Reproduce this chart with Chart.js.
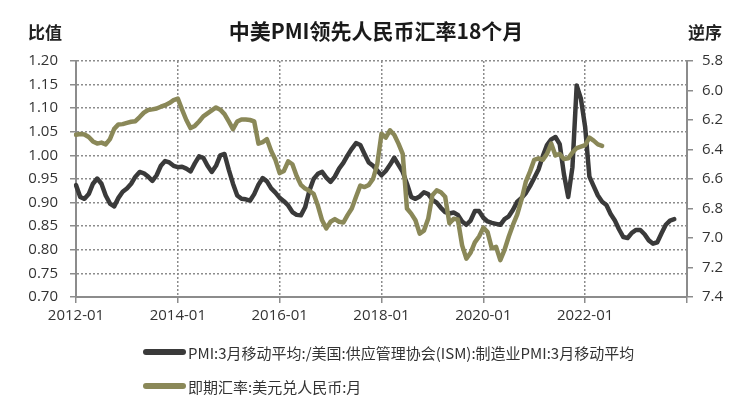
<!DOCTYPE html>
<html lang="zh">
<head>
<meta charset="UTF-8">
<title>中美PMI领先人民币汇率18个月</title>
<script src="https://cdn.jsdelivr.net/npm/chart.js"></script>
<style>
  body { margin: 0; background: #fff; }
  #wrap { position: relative; width: 752px; height: 398px; }
  .legend { position: absolute; left: 143px; height: 20px; line-height: 20px; font: 15px "Noto Sans CJK SC", sans-serif; color: #333; display: flex; align-items: center; white-space: nowrap; }
  .legend i { display: inline-block; width: 43px; height: 6px; border-radius: 3px; margin-right: 2px; }
</style>
</head>
<body>
<div id="wrap">
  <canvas id="myChart" width="752" height="398"></canvas>
  <div id="legend"></div>
</div>
<script>
// x axis: monthly, 2012-01 .. 2024-01
const startYear = 2012, endYear = 2024;
const tickLabels = ['2012-01', '2014-01', '2016-01', '2018-01', '2020-01', '2022-01'];

// PMI ratio (China / US ISM, 3m avg), from 2012-01
const pmiRatio = [
  0.937, 0.912, 0.908, 0.918, 0.940, 0.951, 0.940, 0.915, 0.898, 0.892, 0.910, 0.923,
  0.930, 0.940, 0.955, 0.965, 0.962, 0.955, 0.946, 0.958, 0.978, 0.988, 0.985, 0.978,
  0.975, 0.976, 0.972, 0.966, 0.983, 0.998, 0.995, 0.978, 0.965, 0.978, 1.000, 1.003,
  0.970, 0.940, 0.915, 0.908, 0.907, 0.904, 0.918, 0.938, 0.952, 0.945, 0.930, 0.921,
  0.910, 0.903, 0.894, 0.880, 0.874, 0.873, 0.890, 0.925, 0.950, 0.961, 0.965, 0.953,
  0.944, 0.955, 0.972, 0.984, 1.000, 1.014, 1.026, 1.022, 1.003, 0.985, 0.978, 0.968,
  0.958, 0.967, 0.980, 0.995, 0.980, 0.965, 0.940, 0.912, 0.908, 0.913, 0.922, 0.918,
  0.906, 0.900, 0.889, 0.880, 0.877, 0.879, 0.874, 0.860, 0.853, 0.862, 0.882, 0.882,
  0.868, 0.860, 0.857, 0.855, 0.853, 0.865, 0.871, 0.885, 0.902, 0.910, 0.920, 0.935,
  0.952, 0.970, 0.998, 1.022, 1.034, 1.039, 1.024, 0.960, 0.912, 0.975, 1.148, 1.120,
  1.060, 0.955, 0.935, 0.915, 0.902, 0.895, 0.876, 0.862, 0.843, 0.827, 0.825, 0.836,
  0.842, 0.842, 0.833, 0.820, 0.813, 0.816, 0.835, 0.853, 0.862, 0.865
];

// USD/CNY spot (right axis, reversed), shifted 18 months, from 2012-01
const usdCny = [
  6.300, 6.295, 6.298, 6.315, 6.345, 6.360, 6.353, 6.365, 6.330, 6.260, 6.230, 6.228,
  6.220, 6.212, 6.208, 6.180, 6.150, 6.132, 6.128, 6.122, 6.110, 6.100, 6.085, 6.065,
  6.055, 6.130, 6.200, 6.255, 6.240, 6.210, 6.175, 6.155, 6.135, 6.115, 6.130, 6.160,
  6.210, 6.262, 6.210, 6.196, 6.196, 6.200, 6.210, 6.360, 6.350, 6.330, 6.410, 6.470,
  6.560, 6.545, 6.480, 6.500, 6.580, 6.640, 6.665, 6.680, 6.700, 6.780, 6.880, 6.935,
  6.890, 6.872, 6.890, 6.895, 6.845, 6.800, 6.720, 6.645, 6.655, 6.640, 6.600, 6.500,
  6.293, 6.320, 6.270, 6.300, 6.360, 6.430, 6.800, 6.835, 6.880, 6.970, 6.950, 6.870,
  6.710, 6.677, 6.690, 6.720, 6.900, 6.870, 6.875, 7.050, 7.140, 7.100, 7.030, 6.990,
  6.930, 6.960, 7.070, 7.060, 7.150, 7.080, 6.990, 6.910, 6.840, 6.740, 6.620, 6.550,
  6.470, 6.460, 6.470, 6.430, 6.360, 6.440, 6.430, 6.465, 6.460, 6.420, 6.390, 6.380,
  6.370, 6.320, 6.340, 6.365, 6.375
];

const months = [];
for (let y = startYear; y <= endYear; y++) {
  for (let m = 1; m <= 12; m++) {
    if (y === endYear && m > 1) break;
    months.push(y + '-' + String(m).padStart(2, '0'));
  }
}

const axisColor = '#8c8c8c';
const tickFont = { family: '"Open Sans", sans-serif', size: 15 };
const tickColor = '#333';

// axis unit captions above the two y axes
const unitLabels = {
  id: 'unitLabels',
  afterDraw(chart) {
    const { ctx, chartArea } = chart;
    ctx.save();
    ctx.font = 'bold 17px "Noto Sans CJK SC"';
    ctx.fillStyle = '#222';
    ctx.textAlign = 'center';
    ctx.textBaseline = 'middle';
    ctx.fillText('比值', chartArea.left - 31, 33);
    ctx.fillText('逆序', chartArea.right + 18, 33);
    ctx.restore();
  }
};

const ctx = document.getElementById('myChart').getContext('2d');
const chart = new Chart(ctx, {
  type: 'line',
  data: {
    labels: months,
    datasets: [{
      label: 'PMI:3月移动平均:/美国:供应管理协会(ISM):制造业PMI:3月移动平均',
      data: pmiRatio,
      yAxisID: 'y',
      borderColor: '#3a3a3a',
      borderWidth: 4.5,
      pointRadius: 0,
      borderJoinStyle: 'round',
      borderCapStyle: 'round',
      order: 2
    },
    {
      label: '即期汇率:美元兑人民币:月',
      data: usdCny,
      yAxisID: 'y1',
      borderColor: '#8a8858',
      borderWidth: 4.5,
      pointRadius: 0,
      borderJoinStyle: 'round',
      borderCapStyle: 'round',
      order: 1
    }]
  },
  options: {
    responsive: false,
    animation: false,
    layout: { padding: { top: 0, left: 0, right: 0, bottom: 61 } },
    plugins: {
      legend: { display: false },
      tooltip: { enabled: false },
      title: {
        display: true,
        text: '中美PMI领先人民币汇率18个月',
        color: '#1a1a1a',
        font: { family: '"Noto Sans CJK SC"', size: 21, weight: 'bold' },
        padding: { top: 18.4, bottom: 17.4 }
      }
    },
    scales: {
      x: {
        type: 'category',
        offset: false,
        grid: {
          color: c => c.index % 24 === 0 ? axisColor : 'transparent',
          tickColor: c => c.index % 24 === 0 ? axisColor : 'transparent',
          lineWidth: 1.5,
          tickLength: 6
        },
        border: { color: axisColor, width: 2, dash: [2, 2] },
        ticks: {
          autoSkip: false,
          maxRotation: 0,
          minRotation: 0,
          padding: 4,
          font: tickFont,
          color: tickColor,
          callback: (v, i) => tickLabels.includes(months[i]) ? months[i] : ''
        },
        afterFit: s => { s.height = 40; }
      },
      y: {
        position: 'left',
        min: 0.7,
        max: 1.2,
        grid: { color: axisColor, tickColor: axisColor, lineWidth: 1.5, tickLength: 6 },
        border: { color: axisColor, width: 2, dash: [2, 2] },
        ticks: {
          stepSize: 0.05,
          padding: 12,
          font: tickFont,
          color: tickColor,
          callback: v => v.toFixed(2)
        },
        afterFit: s => { s.width = 76; }
      },
      y1: {
        position: 'right',
        reverse: true,
        min: 5.8,
        max: 7.4,
        grid: { drawOnChartArea: false, color: axisColor, tickColor: axisColor, lineWidth: 1.5, tickLength: 6 },
        border: { color: axisColor, width: 2 },
        ticks: {
          stepSize: 0.2,
          padding: 9,
          font: tickFont,
          color: tickColor,
          callback: v => v.toFixed(1)
        },
        afterFit: s => { s.width = 65; }
      }
    }
  },
  plugins: [unitLabels]
});

// legend rows below the chart, one per series
const legendEl = document.getElementById('legend');
chart.data.datasets.forEach((ds, i) => {
  const row = document.createElement('div');
  row.className = 'legend';
  row.style.top = (342 + i * 34) + 'px';
  row.innerHTML = '<i style="background:' + ds.borderColor + '"></i>' + ds.label;
  legendEl.appendChild(row);
});
</script>
</body>
</html>
